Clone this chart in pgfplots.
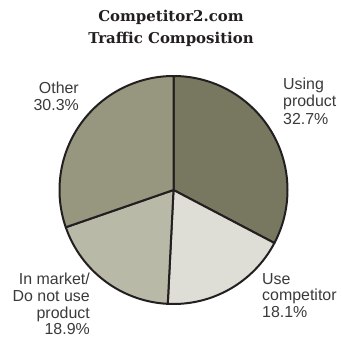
\documentclass[border=0pt]{standalone}
\usepackage{pgfplots}
\pgfplotsset{compat=1.18}
\usepackage{fontspec}
\setmainfont{Liberation Sans}
\newfontfamily\titlefont{DejaVu Serif}
\definecolor{cUsing}{HTML}{787860}
\definecolor{cComp}{HTML}{DEDED6}
\definecolor{cMarket}{HTML}{B9B9A7}
\definecolor{cOther}{HTML}{97967E}
\definecolor{cEdge}{HTML}{231F20}
\definecolor{cText}{HTML}{3A3A3A}
\definecolor{cTitle}{HTML}{231F20}
\begin{document}
\begin{tikzpicture}
\begin{axis}[
  x=1bp, y=1bp,
  xmin=0, xmax=342, ymin=0, ymax=339,
  hide axis, clip=false,
]
\path (axis cs:0,0) rectangle (axis cs:342,339);
% values (percent), clockwise from 12 o'clock
\pgfmathsetmacro{\va}{32.7}
\pgfmathsetmacro{\vb}{18.1}
\pgfmathsetmacro{\vc}{18.9}
\pgfmathsetmacro{\vd}{30.3}
\pgfmathsetmacro{\aa}{90}
\pgfmathsetmacro{\ab}{90-3.6*\va}
\pgfmathsetmacro{\ac}{\ab-3.6*\vb}
\pgfmathsetmacro{\ad}{\ac-3.6*\vc}
\pgfmathsetmacro{\ae}{\ad-3.6*\vd}
\def\R{114bp}
\filldraw[fill=cUsing, draw=cEdge, line width=2bp, line join=round] (axis cs:173.5,149) -- ++(\aa:\R) arc[start angle=\aa, end angle=\ab, radius=\R] -- cycle;
\filldraw[fill=cComp, draw=cEdge, line width=2bp, line join=round] (axis cs:173.5,149) -- ++(\ab:\R) arc[start angle=\ab, end angle=\ac, radius=\R] -- cycle;
\filldraw[fill=cMarket, draw=cEdge, line width=2bp, line join=round] (axis cs:173.5,149) -- ++(\ac:\R) arc[start angle=\ac, end angle=\ad, radius=\R] -- cycle;
\filldraw[fill=cOther, draw=cEdge, line width=2bp, line join=round] (axis cs:173.5,149) -- ++(\ad:\R) arc[start angle=\ad, end angle=\ae, radius=\R] -- cycle;
% title
\node[text=cTitle, font=\titlefont\bfseries\fontsize{15}{22}\selectfont, align=center, anchor=center] at (axis cs:171,310.5) {Competitor2.com\\Traffic Composition};
% labels
\node[text=cText, font=\fontsize{16}{17.3}\selectfont, align=left, anchor=north west, inner sep=0pt] at (axis cs:283,261) {Using\\product\\32.7\%};
\node[text=cText, font=\fontsize{16}{16.7}\selectfont, align=left, anchor=north west, inner sep=0pt] at (axis cs:262,66) {Use\\competitor\\18.1\%};
\node[text=cText, font=\fontsize{16}{16.7}\selectfont, align=right, anchor=north east, inner sep=0pt] at (axis cs:90,66) {In market/\\Do not use\\product\\18.9\%};
\node[text=cText, font=\fontsize{16}{16.7}\selectfont, align=right, anchor=north east, inner sep=0pt] at (axis cs:79,257) {Other\\30.3\%};
\end{axis}
\end{tikzpicture}
\end{document}
